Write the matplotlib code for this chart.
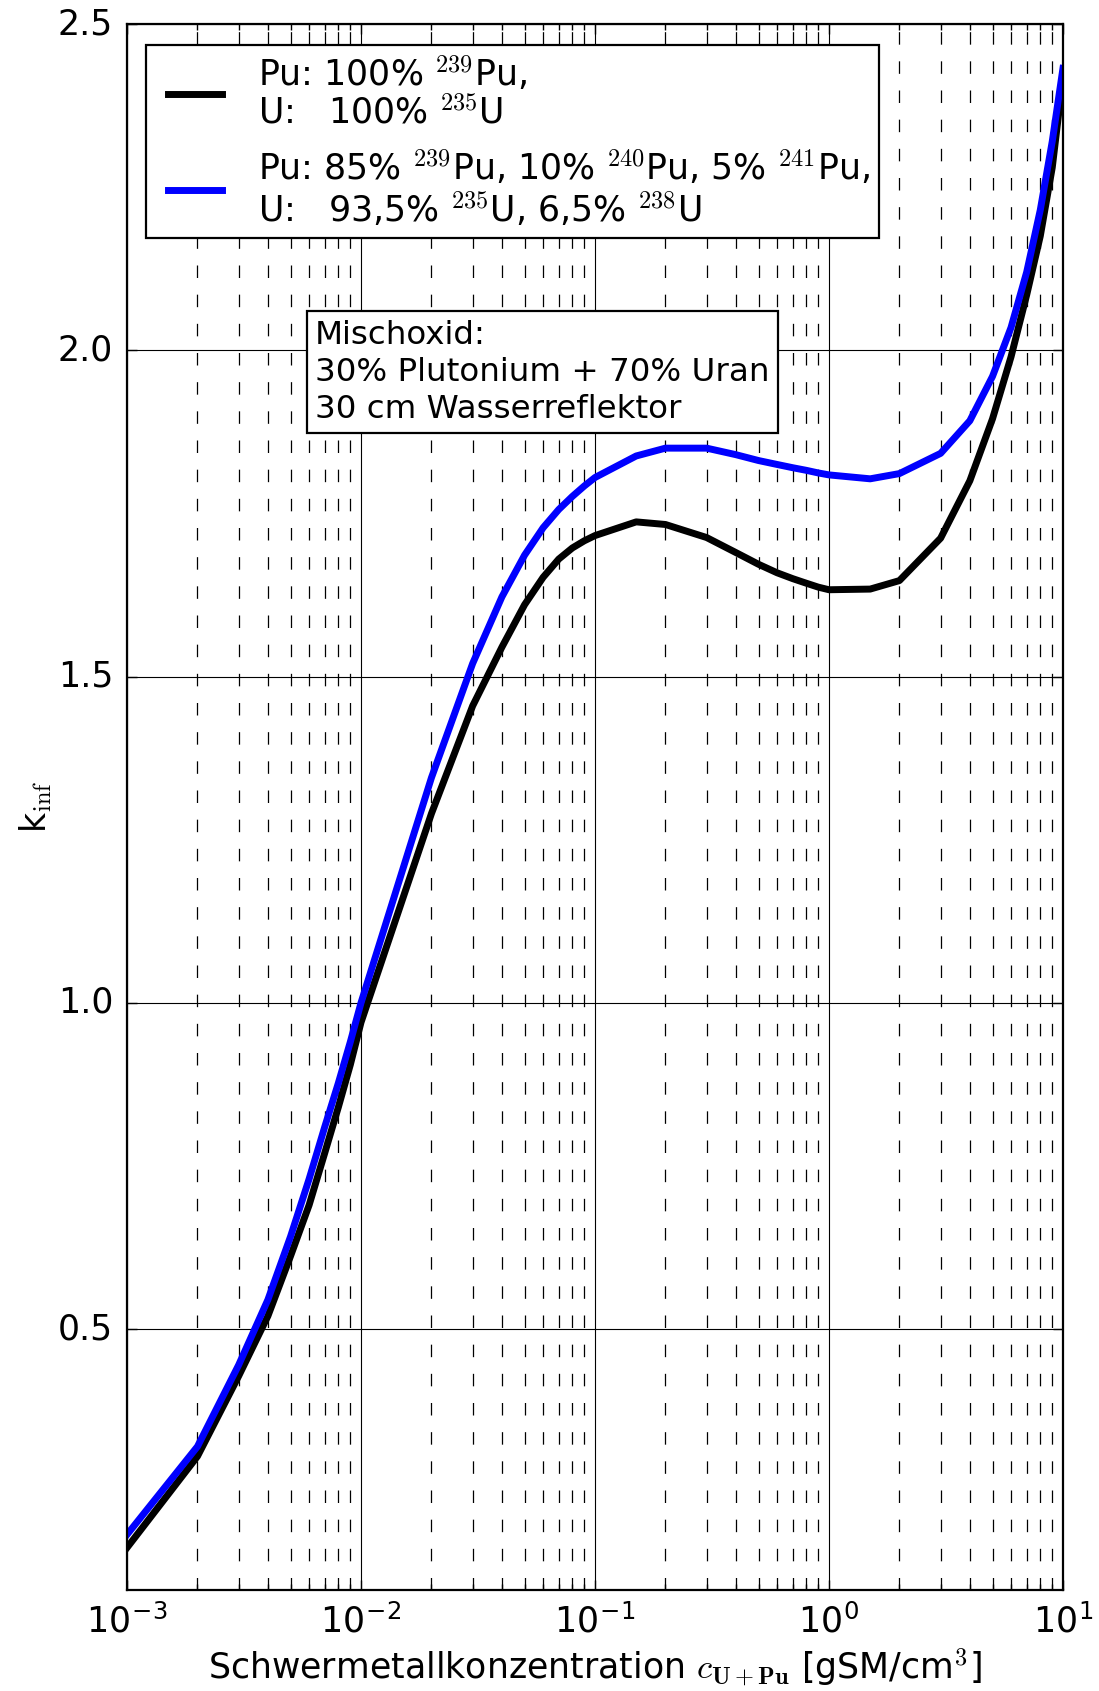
import numpy as np
import matplotlib
matplotlib.use('Agg')
import matplotlib.pyplot as plt
from matplotlib.lines import Line2D
from matplotlib.legend_handler import HandlerLine2D
from matplotlib.ticker import FixedLocator, FixedFormatter, LogLocator, NullLocator

plt.style.use('classic')
plt.rcParams['font.family'] = 'DejaVu Sans'
plt.rcParams['mathtext.fontset'] = 'cm'

# -----------------------
# Data
# -----------------------
conc = [1e-3, 2e-3, 3e-3, 4e-3, 5e-3, 6e-3, 7e-3, 8e-3, 9e-3,
        1e-2, 2e-2, 3e-2, 4e-2, 5e-2, 6e-2, 7e-2, 8e-2, 9e-2,
        1e-1, 1.5e-1, 2e-1, 3e-1, 4e-1, 5e-1, 6e-1, 7e-1, 8e-1, 9e-1,
        1.0, 1.5, 2.0, 3.0, 4.0, 5.0, 6.0, 7.0, 8.0, 9.0, 10.0]

# Pu: 100% Pu-239, U: 100% U-235
k_pure = [0.165, 0.305, 0.428, 0.520, 0.612, 0.690, 0.770, 0.840, 0.905,
          0.970, 1.290, 1.455, 1.545, 1.610, 1.652, 1.680, 1.697, 1.708,
          1.716, 1.737, 1.733, 1.713, 1.690, 1.672, 1.659, 1.650, 1.643, 1.637,
          1.633, 1.634, 1.647, 1.712, 1.800, 1.895, 1.990, 2.085, 2.175, 2.280, 2.418]

# Pu: 85/10/5 (239/240/241), U: 93.5% U-235, 6.5% U-238
k_mix = [0.185, 0.320, 0.445, 0.545, 0.642, 0.730, 0.810, 0.877, 0.940,
         1.000, 1.345, 1.520, 1.622, 1.686, 1.728, 1.756, 1.776, 1.792,
         1.805, 1.838, 1.850, 1.850, 1.840, 1.831, 1.825, 1.820, 1.816, 1.812,
         1.809, 1.803, 1.811, 1.842, 1.892, 1.960, 2.035, 2.120, 2.215, 2.320, 2.432]

xticks = [1e-3, 1e-2, 1e-1, 1e0, 1e1]
xticklabels = ['10$^{\\mathregular{-3}}$', '10$^{\\mathregular{-2}}$', '10$^{\\mathregular{-1}}$',
               '10$^{\\mathregular{0}}$', '10$^{\\mathregular{1}}$']
yticks = [0.5, 1.0, 1.5, 2.0, 2.5]

label_pure = 'Pu: 100% $^{239}$Pu,\nU:   100% $^{235}$U'
label_mix = ('Pu: 85% $^{239}$Pu, 10% $^{240}$Pu, 5% $^{241}$Pu,\n'
             'U:   93,5% $^{235}$U, 6,5% $^{238}$U')
info_text = 'Mischoxid:\n30% Plutonium + 70% Uran\n30 cm Wasserreflektor'

FS = 25

# -----------------------
# Figure
# -----------------------
fig = plt.figure(figsize=(10.99, 16.91), dpi=100, facecolor='white')
ax = fig.add_axes([0.1156, 0.0597, 0.8516, 0.9261])
ax.set_facecolor('white')

ax.plot(conc, k_pure, color='black', lw=5, label=label_pure)
ax.plot(conc, k_mix, color='blue', lw=5, label=label_mix)

ax.set_xscale('log')
ax.set_xlim(1e-3, 1e1)
ax.set_ylim(0.1, 2.5)

ax.xaxis.set_major_locator(FixedLocator(xticks))
ax.xaxis.set_major_formatter(FixedFormatter(xticklabels))
ax.xaxis.set_minor_locator(LogLocator(base=10, subs=np.arange(2, 10)))
ax.yaxis.set_major_locator(FixedLocator(yticks))
ax.yaxis.set_minor_locator(NullLocator())

ax.tick_params(axis='both', which='major', labelsize=FS, direction='in',
               length=7, width=1, pad=10)
ax.tick_params(axis='x', which='minor', direction='in', length=4, width=1)

ax.grid(True, which='major', color='black', linestyle='-', linewidth=0.8)
ax.xaxis.grid(True, which='minor', color='black', linestyle=(0, (9, 12)), linewidth=0.9)
ax.set_axisbelow(True)

for sp in ax.spines.values():
    sp.set_linewidth(1.6)

ax.set_xlabel('Schwermetallkonzentration $c_{\\mathbf{U+Pu}}$ [gSM/cm$^3$]', fontsize=FS)
ax.set_ylabel('k$_{\\mathrm{inf}}$', fontsize=FS, labelpad=3)

leg = ax.legend(loc='upper left', bbox_to_anchor=(0.02, 0.9866), borderaxespad=0,
                fontsize=FS, numpoints=1, handlelength=1.93, handletextpad=1.03,
                labelspacing=0.5, borderpad=0.27, fancybox=False, framealpha=1,
                handler_map={Line2D: HandlerLine2D(xpad=0.37)})
leg.get_frame().set_linewidth(1.6)
leg.get_frame().set_edgecolor('black')
for t in leg.get_texts():
    t.set_linespacing(1.1)

ax.text(0.201, 0.8112, info_text, transform=ax.transAxes, fontsize=23.4,
        ha='left', va='top', linespacing=1.25,
        bbox=dict(boxstyle='square,pad=0.26', facecolor='white', edgecolor='black', linewidth=1.6))

fig.savefig('out.png', dpi=100, facecolor='white')
